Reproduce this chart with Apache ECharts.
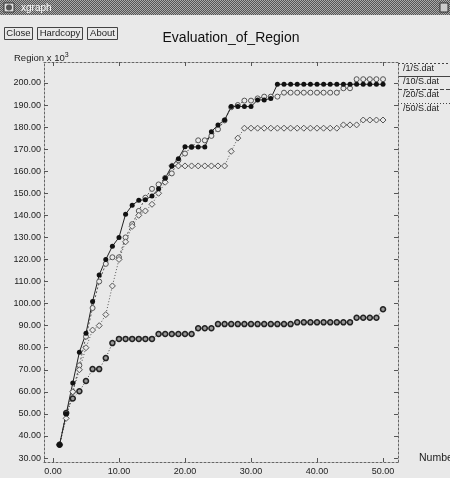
<!DOCTYPE html>
<html><head><meta charset="utf-8">
<script src="https://cdn.jsdelivr.net/npm/echarts@6/dist/echarts.min.js"></script>
<style>html,body{margin:0;padding:0;background:#e9e9e9;overflow:hidden;}#c{width:450px;height:478px;}</style>
</head><body><div id="c"></div>
<script>
// ---- data ----
const xs = [1,2,3,4,5,6,7,8,9,10,11,12,13,14,15,16,17,18,19,20,21,22,23,24,25,26,27,28,29,30,31,32,33,34,35,36,37,38,39,40,41,42,43,44,45,46,47,48,49,50];
const seriesNames = ['/1/S.dat', '/10/S.dat', '/20/S.dat', '/50/S.dat'];
const s1 = [36,50,60,72,85,98,110,118,121,121,130,136,142,148,152,154,157,159,165,168,171,174,174,176,179,183,189,190,192,192,193,193.8,193.8,193.8,195.6,195.6,195.6,195.6,195.6,195.6,195.6,195.6,195.6,197.6,197.6,201.7,201.7,201.7,201.7,201.7];
const s10 = [36,50,64,78,86.5,101,113,120,126,130,140.5,144.6,146.8,147.1,148.8,152,156.8,162.4,165.7,171.1,171,171,171,177.9,181,183.2,189.3,189.3,189.3,189.3,192.3,192.3,193,199.4,199.4,199.4,199.4,199.4,199.4,199.4,199.4,199.4,199.4,199.4,199.4,199.4,199.4,199.4,199.4,199.4];
const s20 = [36,48,60,70,80,88,90,95,108,120,128,135,140,142,145,150,155,162.4,162.4,162.4,162.4,162.4,162.4,162.4,162.4,162.4,169,175,179.5,179.5,179.5,179.5,179.5,179.5,179.5,179.5,179.5,179.5,179.5,179.5,179.5,179.5,179.5,181,181,181,183.2,183.2,183.2,183.2];
const s50 = [36,50.4,57,60.3,64.9,70.3,70.3,75.3,82.1,84,84,84,84,84,84,86.2,86.2,86.2,86.2,86.2,86.2,88.8,88.8,88.8,90.7,90.7,90.7,90.7,90.7,90.7,90.7,90.7,90.7,90.7,90.7,90.7,91.5,91.5,91.5,91.5,91.5,91.5,91.5,91.5,91.5,93.6,93.6,93.6,93.6,97.4];
const yTicks = [30,40,50,60,70,80,90,100,110,120,130,140,150,160,170,180,190,200];
const xTicks = [0,10,20,30,40,50];
const titleText = 'Evaluation_of_Region';
const yName = 'Region x 10';
const xName = 'Number';

const pair = arr => arr.map((v, i) => [xs[i], v]);

const chart = echarts.init(document.getElementById('c'), null, {renderer: 'canvas'});

const pc = document.createElement('canvas');
pc.width = 2; pc.height = 2;
const pctx = pc.getContext('2d');
pctx.fillStyle = '#555'; pctx.fillRect(0,0,2,2);
pctx.fillStyle = '#aaa'; pctx.fillRect(0,0,1,1); pctx.fillRect(1,1,1,1);

const BG = '#e9e9e9';
const FONT = 'Liberation Sans, Arial, sans-serif';
const axisCommon = {
  type: 'value', splitLine: {show: false},
  axisLine: {show: true, onZero: false, lineStyle: {color: '#666', type: [2, 2], width: 1}},
  axisTick: {show: true, inside: true, length: 4, lineStyle: {color: '#555'}}
};
const xMin = -1.36, xMax = 52.27, yMin = 28.2, yMax = 209.5;

const legendY = [63, 76, 89, 103];
const legendDash = [[2, 2], null, [4, 2], [1, 2]];
const graphics = [
  {type: 'rect', shape: {x: 0, y: 0, width: 450, height: 15}, style: {fill: {image: pc, repeat: 'repeat'}}},
  {type: 'rect', shape: {x: 4, y: 3, width: 10, height: 9}, style: {fill: '#ddd', stroke: '#333'}},
  {type: 'circle', shape: {cx: 9, cy: 7.5, r: 3}, style: {fill: '#555'}},
  {type: 'text', x: 21, y: 8, style: {text: 'xgraph', fill: '#fff', font: '10px ' + FONT, verticalAlign: 'middle'}},
  {type: 'rect', shape: {x: 440, y: 3, width: 8, height: 9}, style: {fill: '#ccc', stroke: '#333'}},
  {type: 'rect', shape: {x: 4.5, y: 27.5, width: 28, height: 12}, style: {fill: 'none', stroke: '#444'}},
  {type: 'text', x: 18.5, y: 33.5, style: {text: 'Close', fill: '#222', font: '9.5px ' + FONT, align: 'center', verticalAlign: 'middle'}},
  {type: 'rect', shape: {x: 37.5, y: 27.5, width: 45, height: 12}, style: {fill: 'none', stroke: '#444'}},
  {type: 'text', x: 60, y: 33.5, style: {text: 'Hardcopy', fill: '#222', font: '9.5px ' + FONT, align: 'center', verticalAlign: 'middle'}},
  {type: 'rect', shape: {x: 87.5, y: 27.5, width: 30, height: 12}, style: {fill: 'none', stroke: '#444'}},
  {type: 'text', x: 102.5, y: 33.5, style: {text: 'About', fill: '#222', font: '9.5px ' + FONT, align: 'center', verticalAlign: 'middle'}},
  {type: 'text', x: 231, y: 38, style: {text: titleText, fill: '#111', font: '14px ' + FONT, align: 'center', verticalAlign: 'middle'}},
  {type: 'text', x: 14, y: 58, style: {text: '{a|' + yName + '}{b|3}', rich: {a: {font: '9.5px ' + FONT, fill: '#222'}, b: {font: '7px ' + FONT, fill: '#222', verticalAlign: 'top', padding: [0,0,6,0]}}, verticalAlign: 'middle'}},
  {type: 'text', x: 419, y: 458, style: {text: xName, fill: '#222', font: '10.5px ' + FONT, verticalAlign: 'middle'}}
];
seriesNames.forEach((n, i) => {
  graphics.push({type: 'line', shape: {x1: 398, y1: legendY[i] + 0.5, x2: 450, y2: legendY[i] + 0.5}, style: {stroke: '#444', lineWidth: 1, lineDash: legendDash[i]}});
  graphics.push({type: 'text', x: 403, y: legendY[i] + 6, style: {text: n, fill: '#222', font: '9px ' + FONT, verticalAlign: 'middle'}});
});

const lineFor = (name, data, opts) => Object.assign({
  name, type: 'line', data: pair(data), xAxisIndex: 0, yAxisIndex: 0,
  animation: false, silent: true
}, opts);

chart.setOption({
  backgroundColor: BG,
  animation: false,
  grid: {left: 44, top: 62, right: 52, bottom: 16, containLabel: false},
  xAxis: [
    Object.assign({}, axisCommon, {min: xMin, max: xMax, position: 'bottom',
      axisLabel: {customValues: xTicks, formatter: v => v.toFixed(2), color: '#222', fontSize: 9, fontFamily: FONT, margin: 5},
      axisTick: Object.assign({}, axisCommon.axisTick, {customValues: xTicks})}),
    Object.assign({}, axisCommon, {min: xMin, max: xMax, position: 'top',
      axisLabel: {show: false},
      axisTick: Object.assign({}, axisCommon.axisTick, {customValues: xTicks})})
  ],
  yAxis: [
    Object.assign({}, axisCommon, {min: yMin, max: yMax, position: 'left',
      axisLabel: {customValues: yTicks, formatter: v => v.toFixed(2), color: '#222', fontSize: 9, fontFamily: FONT, margin: 3},
      axisTick: Object.assign({}, axisCommon.axisTick, {customValues: yTicks})}),
    Object.assign({}, axisCommon, {min: yMin, max: yMax, position: 'right',
      axisLabel: {show: false},
      axisTick: Object.assign({}, axisCommon.axisTick, {customValues: yTicks})})
  ],
  graphic: graphics,
  series: [
    lineFor(seriesNames[0], s1, {symbol: 'circle', symbolSize: 5, lineStyle: {color: '#555', width: 1, type: [2, 2]}, itemStyle: {color: BG, borderColor: '#555', borderWidth: 1}}),
    lineFor(seriesNames[2], s20, {symbol: 'diamond', symbolSize: 6, lineStyle: {color: '#555', width: 1, type: [1, 2]}, itemStyle: {color: BG, borderColor: '#555', borderWidth: 1}}),
    lineFor(seriesNames[3], s50, {symbol: 'circle', symbolSize: 5, lineStyle: {color: '#444', width: 1, type: [1, 2]}, itemStyle: {color: '#999', borderColor: '#222', borderWidth: 1.5}}),
    lineFor(seriesNames[1], s10, {symbol: 'circle', symbolSize: 5, lineStyle: {color: '#222', width: 1, type: 'solid'}, itemStyle: {color: '#111', borderColor: '#111', borderWidth: 0}})
  ]
});
</script></body></html>
